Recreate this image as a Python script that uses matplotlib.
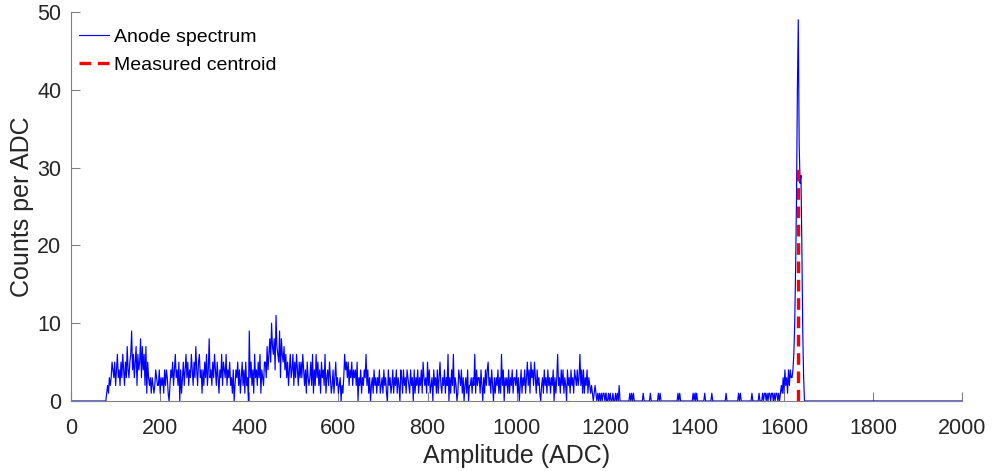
import matplotlib.pyplot as plt
import numpy as np

plt.rcParams['font.family'] = ['Liberation Sans', 'DejaVu Sans']

# spectrum, 2 ADC per bin, counts (hex digits, A=10, B=11)
bin_width = 2
noise_start = 80
noise_counts = (
    "12132354"
    "3524634253" "6425374356" "9463572645" "8374627153" "2313212432"
    "2413231424" "3102435246" "3425041352" "4635243642" "5374256341"
    "4253624834" "2536425314" "3625436243" "5231402435" "2413524152"
    "3093524163" "4253614325" "5374685A76" "84B7659386" "5746352463"
    "4625364253" "5364241532" "3526142635" "2415342613" "4253124135"
    "2312302136" "4535243524" "3425032413" "2436241302" "3142313241"
    "2314231042" "3124132413" "2043142314" "3214230413" "2413241532"
    "3152412304" "2314135213" "2413260314" "2613201432" "4130231402"
    "2313261423" "3142031424" "5231420313" "2413162403" "2314132413"
    "3241302413" "2413524153" "4253142310" "2314231423" "1324031362"
    "3142413204" "2314231432" "4236241413" "2413212101" "2101010101"
    "1010010100" "1001010200"
)
single_hits = [1254, 1258, 1262, 1284, 1300, 1318, 1322, 1362, 1366, 1396,
               1400, 1404, 1422, 1438, 1470, 1498, 1502, 1528, 1544]
tail_start = 1552
tail_counts = "10110101101101011010" "1213142314243"
peak_start = 1618
peak_counts = [3, 4, 6, 10, 17, 26, 40, 49, 33, 28, 29, 20, 9, 3, 0]

centroid = 1631
centroid_height = 30

adc = np.arange(0, 2000 + bin_width, bin_width)
counts = np.zeros(len(adc))
i0 = noise_start // bin_width
counts[i0:i0 + len(noise_counts)] = [int(c, 16) for c in noise_counts]
for a in single_hits:
    counts[a // bin_width] = 1
i0 = tail_start // bin_width
counts[i0:i0 + len(tail_counts)] = [int(c) for c in tail_counts]
i0 = peak_start // bin_width
counts[i0:i0 + len(peak_counts)] = peak_counts

fig = plt.figure(figsize=(9.95, 4.71), dpi=100)
ax = fig.add_axes([0.0714, 0.1486, 0.8957, 0.8259])

ax.plot(adc, counts, color='#0000ff', lw=0.85, label='Anode spectrum')
ax.plot([centroid, centroid], [0, centroid_height], color='#ff0000', lw=2.4,
        ls=(0, (3.5, 2.0)), label='Measured centroid')

ax.set_xlim(0, 2000)
ax.set_ylim(0, 50)
ax.set_xticks(np.arange(0, 2001, 200))
ax.set_yticks(np.arange(0, 51, 10))
for s in ['top', 'right']:
    ax.spines[s].set_visible(False)
for s in ['left', 'bottom']:
    ax.spines[s].set_color('#808080')
    ax.spines[s].set_linewidth(0.8)
ax.tick_params(direction='in', length=6.5, width=0.8, color='#808080',
               labelsize=15.5, labelcolor='#262626')
ax.tick_params(axis='x', pad=12)
ax.tick_params(axis='y', pad=7)

ax.set_xlabel('Amplitude (ADC)', fontsize=18, color='#262626', labelpad=4)
ax.set_ylabel('Counts per ADC', fontsize=18, color='#262626', labelpad=2)

ax.legend(loc='upper left', frameon=False, fontsize=14, handlelength=1.55,
          handletextpad=0.25, labelspacing=0.55, borderaxespad=0.0,
          bbox_to_anchor=(0.0, 0.978))

fig.savefig('out.png', dpi=100)
